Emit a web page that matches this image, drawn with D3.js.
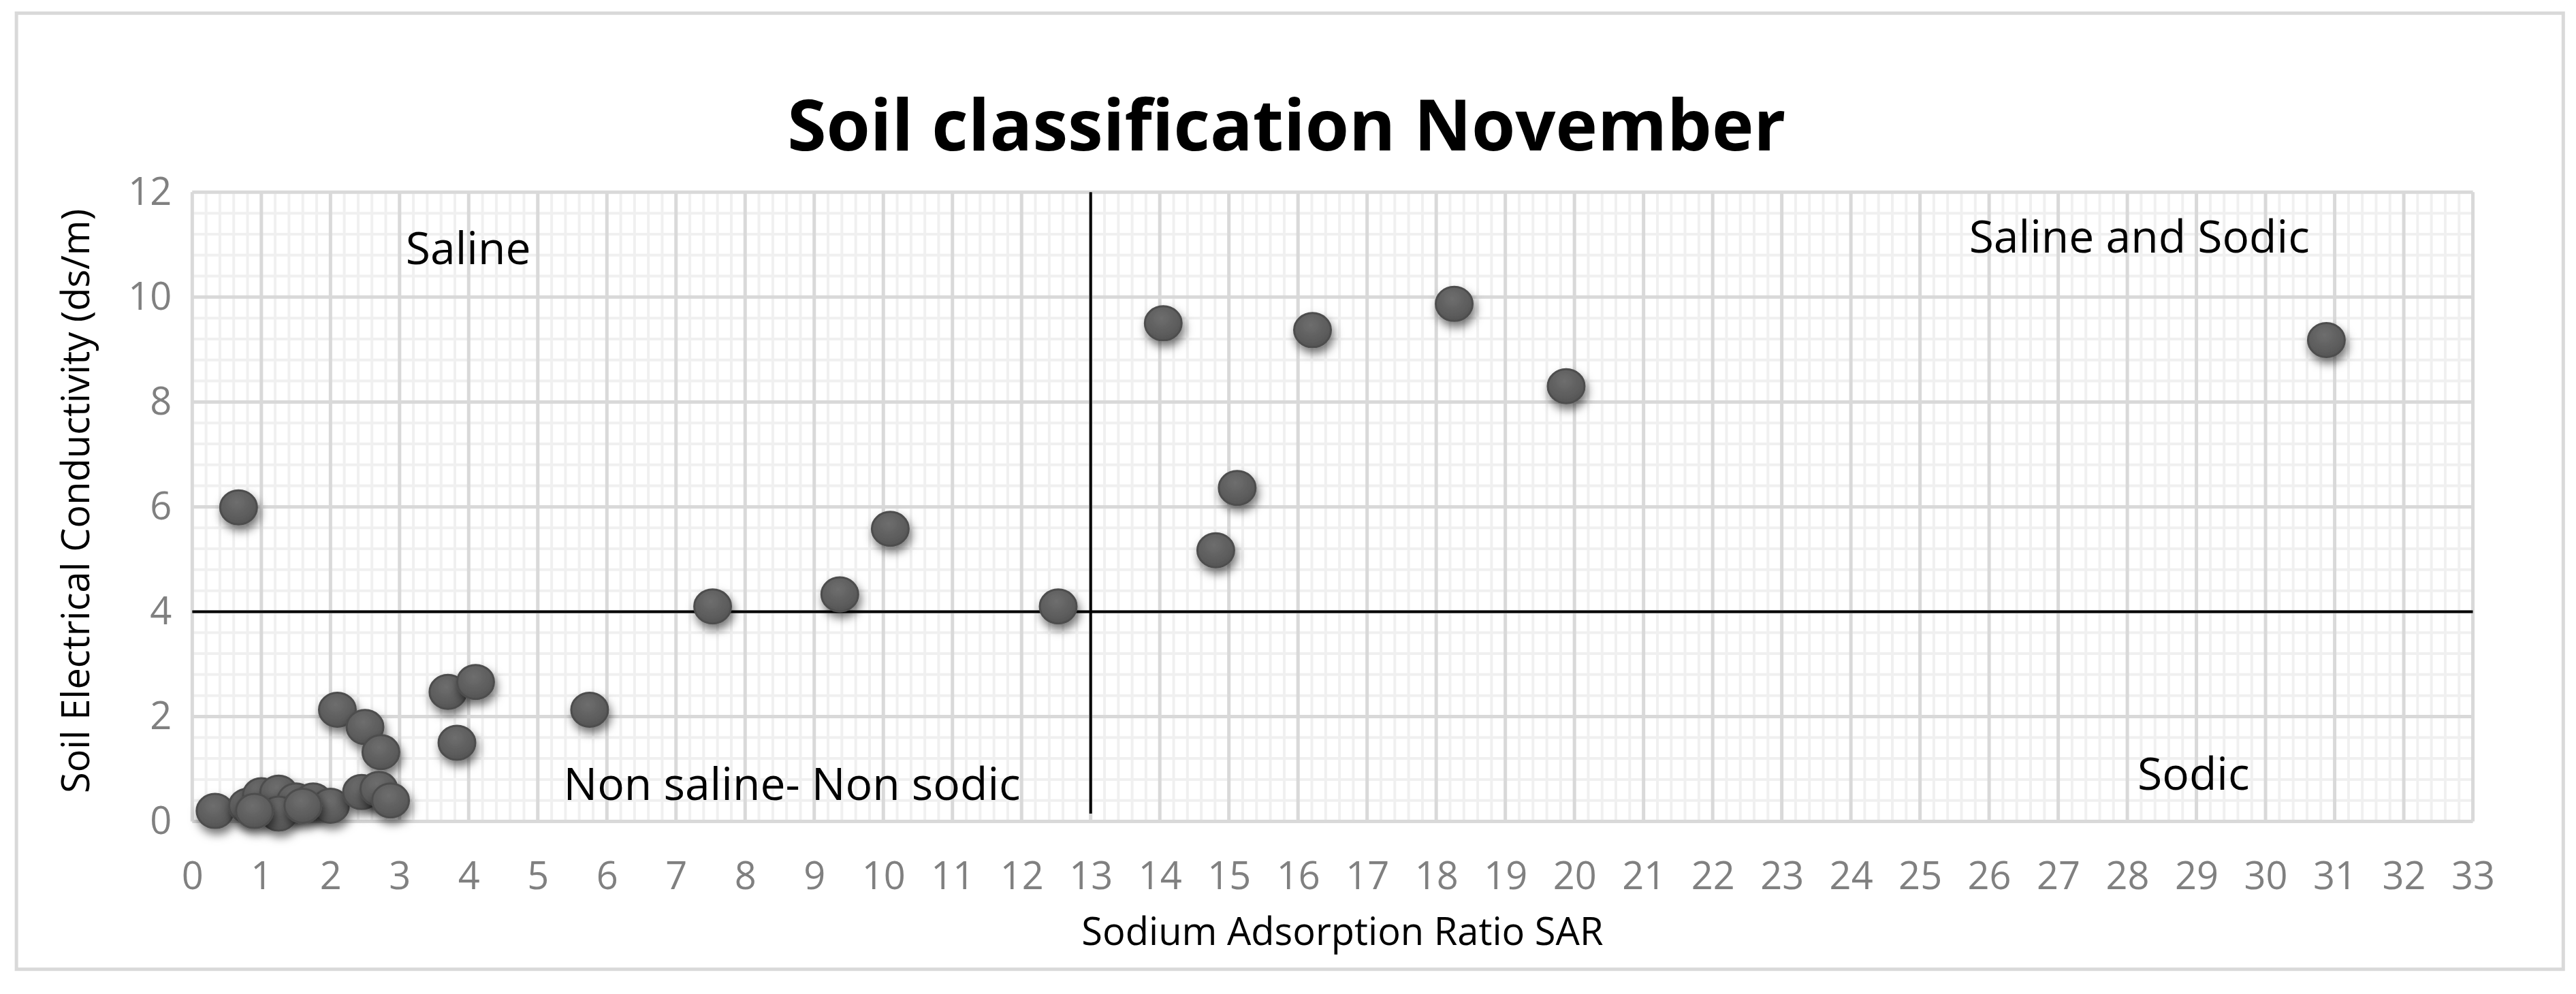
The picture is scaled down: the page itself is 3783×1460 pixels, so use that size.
<!DOCTYPE html>
<html><head><meta charset="utf-8">
<script src="https://cdn.jsdelivr.net/npm/d3@7"></script>
<style>body{margin:0;background:#fff}svg{display:block}</style>
</head><body>
<script>
const sarValues = [0.67,0.33,0.8,1.0,1.25,1.5,1.75,2.0,1.25,0.9,1.6,2.1,2.5,2.73,2.45,2.7,2.87,3.7,4.1,3.83,5.75,7.53,9.37,10.1,12.53,14.05,14.81,15.12,16.21,18.26,19.88,30.88];
const ecValues  = [5.99,0.2,0.3,0.5,0.55,0.4,0.4,0.3,0.15,0.2,0.3,2.13,1.8,1.32,0.56,0.62,0.4,2.47,2.66,1.5,2.13,4.1,4.33,5.58,4.1,9.5,5.17,6.36,9.37,9.87,8.3,9.18];
const xTicks = d3.range(0,34);
const yTicks = [0,2,4,6,8,10,12];
const zoneLabels = ["Saline","Saline and Sodic","Non saline- Non sodic","Sodic"];

const W=3783,H=1460,k=2.413;
const svg=d3.select("body").append("svg").attr("width",W).attr("height",H);
const defs=svg.append("defs");
const g=defs.append("radialGradient").attr("id","dot").attr("cx","45%").attr("cy","35%").attr("r","65%");
g.append("stop").attr("offset","0%").attr("stop-color","#6e6e6e");
g.append("stop").attr("offset","100%").attr("stop-color","#555");
const f=defs.append("filter").attr("id","sh").attr("x","-50%").attr("y","-50%").attr("width","200%").attr("height","200%");
f.append("feDropShadow").attr("dx",3).attr("dy",8).attr("stdDeviation",7).attr("flood-color","#000").attr("flood-opacity",0.55);

svg.append("rect").attr("x",10*k).attr("y",8*k).attr("width",(1560-10)*k).attr("height",(590-8)*k).attr("fill","#fff").attr("stroke","#d9d9d9").attr("stroke-width",5);

const x=d3.scaleLinear().domain([0,33]).range([117*k,1505*k]);
const y=d3.scaleLinear().domain([0,12]).range([500*k,117*k]);

// minor grid
const grid=svg.append("g");
grid.selectAll("line.mx").data(d3.range(0,33*5+1)).join("line")
 .attr("x1",d=>x(d/5)).attr("x2",d=>x(d/5)).attr("y1",y(12)).attr("y2",y(0)).attr("stroke","#f0f0f0").attr("stroke-width",4);
grid.selectAll("line.my").data(d3.range(0,12*2.5+1)).join("line")
 .attr("y1",d=>y(d*0.4)).attr("y2",d=>y(d*0.4)).attr("x1",x(0)).attr("x2",x(33)).attr("stroke","#f0f0f0").attr("stroke-width",4);
grid.selectAll("line.Mx").data(xTicks).join("line")
 .attr("x1",d=>x(d)).attr("x2",d=>x(d)).attr("y1",y(12)).attr("y2",y(0)).attr("stroke","#d9d9d9").attr("stroke-width",5);
grid.selectAll("line.My").data(yTicks).join("line")
 .attr("y1",d=>y(d)).attr("y2",d=>y(d)).attr("x1",x(0)).attr("x2",x(33)).attr("stroke","#d9d9d9").attr("stroke-width",5);

// axes
const xa=svg.append("g").attr("transform",`translate(0,${y(0)})`).call(d3.axisBottom(x).tickValues(xTicks).tickSize(0).tickPadding(60));
xa.select(".domain").remove();
xa.selectAll("text").attr("font-family","'Open Sans',sans-serif").attr("font-size",56).attr("fill","#808080");
const ya=svg.append("g").attr("transform",`translate(${x(0)},0)`).call(d3.axisLeft(y).tickValues(yTicks).tickSize(0).tickPadding(30));
ya.select(".domain").remove();
ya.selectAll("text").attr("font-family","'Open Sans',sans-serif").attr("font-size",56).attr("fill","#808080");

// divider lines
svg.append("line").attr("x1",x(0)).attr("x2",x(33)).attr("y1",y(4)).attr("y2",y(4)).attr("stroke","#000").attr("stroke-width",4);
svg.append("line").attr("x1",x(13)).attr("x2",x(13)).attr("y1",y(12)).attr("y2",y(0.15)).attr("stroke","#000").attr("stroke-width",4);

// points
svg.append("g").selectAll("ellipse").data(sarValues.map((s,i)=>[s,ecValues[i]])).join("ellipse")
 .attr("cx",d=>x(d[0])).attr("cy",d=>y(d[1])).attr("rx",27).attr("ry",25)
 .attr("fill","url(#dot)").attr("stroke","#4e4e4e").attr("stroke-width",3).attr("filter","url(#sh)");

const T=(t,px,py,sz,opt={})=>svg.append("text").text(t).attr("x",px*k).attr("y",py*k).attr("font-family","'Open Sans',sans-serif").attr("font-size",sz).attr("text-anchor",opt.a||"middle").attr("font-weight",opt.w||"normal").attr("fill","#000").attr("dominant-baseline","central").attr("transform",opt.r?`rotate(-90,${px*k},${py*k})`:null);
T("Soil classification November",783,75,104,{w:"bold"});
T(zoneLabels[0],285,150,66);
T(zoneLabels[1],1302,143,66);
T(zoneLabels[2],482,476,66);
T(zoneLabels[3],1335,470,66);
T("Sodium Adsorption Ratio SAR",817,566,56);
T("Soil Electrical Conductivity (ds/m)",45,305,56,{r:true});
</script>
</body></html>
